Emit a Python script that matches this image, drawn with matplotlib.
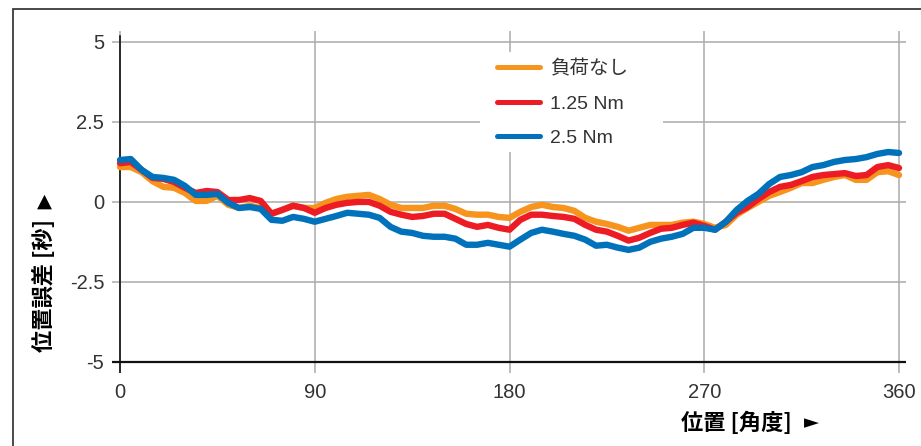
import matplotlib
matplotlib.use("Agg")
import matplotlib.pyplot as plt
from matplotlib.patches import Rectangle

plt.rcParams['font.family'] = ['Liberation Sans', 'Noto Sans CJK JP', 'DejaVu Sans']

# ---- data ----
angles = list(range(0, 361, 5))
series_labels = ["負荷なし", "1.25 Nm", "2.5 Nm"]
no_load = [1.09, 1.09, 0.93, 0.65, 0.47, 0.44, 0.28, 0.03, 0.03, 0.19,
           -0.09, -0.19, -0.12, -0.19, -0.37, -0.25, -0.12, -0.19, -0.19,
           -0.03, 0.09, 0.16, 0.19, 0.22, 0.09, -0.09, -0.19, -0.19, -0.19,
           -0.12, -0.12, -0.22, -0.37, -0.40, -0.40, -0.47, -0.50,
           -0.31, -0.16, -0.09, -0.16, -0.19, -0.28, -0.50, -0.62, -0.69,
           -0.78, -0.90, -0.81, -0.72, -0.72, -0.72, -0.65, -0.62, -0.69,
           -0.81, -0.72, -0.40, -0.19, 0.00, 0.19, 0.31, 0.44, 0.59, 0.59,
           0.69, 0.78, 0.84, 0.69, 0.69, 0.93, 0.96, 0.84]
load_125 = [1.21, 1.25, 1.00, 0.75, 0.72, 0.62, 0.44, 0.28, 0.34, 0.31,
            0.06, 0.06, 0.12, 0.03, -0.37, -0.25, -0.12, -0.19, -0.34,
            -0.19, -0.09, -0.03, 0.00, 0.00, -0.12, -0.31, -0.40, -0.47,
            -0.44, -0.37, -0.37, -0.53, -0.69, -0.78, -0.72, -0.81, -0.87,
            -0.56, -0.40, -0.40, -0.44, -0.47, -0.53, -0.72, -0.87, -0.93,
            -1.06, -1.21, -1.12, -0.97, -0.84, -0.81, -0.72, -0.65, -0.75,
            -0.87, -0.62, -0.34, -0.16, 0.09, 0.31, 0.47, 0.53, 0.65, 0.78,
            0.84, 0.87, 0.90, 0.81, 0.84, 1.09, 1.15, 1.06]
load_25 = [1.31, 1.34, 1.00, 0.78, 0.75, 0.69, 0.50, 0.22, 0.22, 0.25,
           -0.03, -0.19, -0.16, -0.22, -0.56, -0.59, -0.47, -0.53, -0.62,
           -0.53, -0.44, -0.34, -0.37, -0.40, -0.50, -0.78, -0.93, -0.97,
           -1.06, -1.09, -1.09, -1.15, -1.34, -1.34, -1.28, -1.34, -1.40,
           -1.18, -0.97, -0.87, -0.93, -1.00, -1.06, -1.18, -1.37, -1.34,
           -1.43, -1.50, -1.43, -1.25, -1.15, -1.09, -1.00, -0.81, -0.81,
           -0.87, -0.62, -0.25, 0.03, 0.25, 0.56, 0.78, 0.84, 0.93, 1.09,
           1.15, 1.25, 1.31, 1.34, 1.40, 1.50, 1.56, 1.53]
x_ticks = [0, 90, 180, 270, 360]
y_ticks = [-5, -2.5, 0, 2.5, 5]
y_tick_labels = ["-5", "-2.5", "0", "2.5", "5"]

colors = ["#F7941D", "#ED1C24", "#0072BC"]

W, H = 921, 446
fig = plt.figure(figsize=(W / 100, H / 100), dpi=100)
ax = fig.add_axes([112 / W, 1 - 373 / H, (905.5 - 112) / W, (373 - 30.8) / H])

ax.set_xlim(-3.7, 363)
ax.set_ylim(-5.35, 5.35)

for s in ax.spines.values():
    s.set_visible(False)

ax.set_xticks(x_ticks)
ax.set_xticklabels([str(v) for v in x_ticks])
ax.set_yticks(y_ticks)
ax.set_yticklabels(y_tick_labels)
ax.tick_params(length=0, labelsize=14.5, colors="#333333")
ax.tick_params(axis='y', pad=5.5)
ax.tick_params(axis='x', pad=7)
ax.grid(True, color="#ababab", lw=1.1, zorder=0)
ax.set_axisbelow(True)

# axis lines
ax.axhline(-5, color="#111111", lw=1.6, zorder=2)
ax.axvline(0, ymin=0, ymax=(5.2 + 5.35) / 10.7, color="#111111", lw=1.2, zorder=2)

for vals, lab, c, z in zip([no_load, load_125, load_25], series_labels, colors, [3, 4, 5]):
    ax.plot(angles, vals, color=c, lw=4.6, label=lab, zorder=z,
            solid_joinstyle='round', solid_capstyle='round')

# white legend background box
ax.add_artist(Rectangle((480 / W, 1 - 152 / H), (663 - 480) / W, 100 / H,
                        transform=fig.transFigure, facecolor="white",
                        edgecolor="none", zorder=1))

leg = ax.legend(loc="center left", bbox_to_anchor=(497 / W, 1 - 103.5 / H),
                bbox_transform=fig.transFigure, fontsize=14, frameon=False,
                handlelength=2.2, handletextpad=0.52, labelspacing=0.86,
                borderpad=0, borderaxespad=0)
for t in leg.get_texts():
    t.set_color("#333333")
for h in leg.get_lines():
    h.set_linewidth(3.6)
leg.set_zorder(6)

# axis titles
cjk = ["Noto Sans CJK JP", "DejaVu Sans"]
fig.text(44 / W, 1 - 286 / H, "位置誤差 [秒]", rotation=90, ha="center", va="center",
         fontsize=16, fontweight="bold", family=cjk)
fig.text(44 / W, 1 - 201 / H, "▲", ha="center", va="center", fontsize=14,
         family=["DejaVu Sans"])
fig.text(736 / W, 1 - 423 / H, "位置 [角度]", ha="center", va="center",
         fontsize=16, fontweight="bold", family=cjk)
fig.text(811 / W, 1 - 423 / H, "►", ha="center", va="center", fontsize=14,
         family=["DejaVu Sans"])

# outer frame
fig.add_artist(Rectangle((13 / W, -0.1), 1.2, (H - 9) / H + 0.1,
                         transform=fig.transFigure, fill=False,
                         ec="#3a3a3a", lw=1.3))

fig.savefig("out.png", dpi=100)
